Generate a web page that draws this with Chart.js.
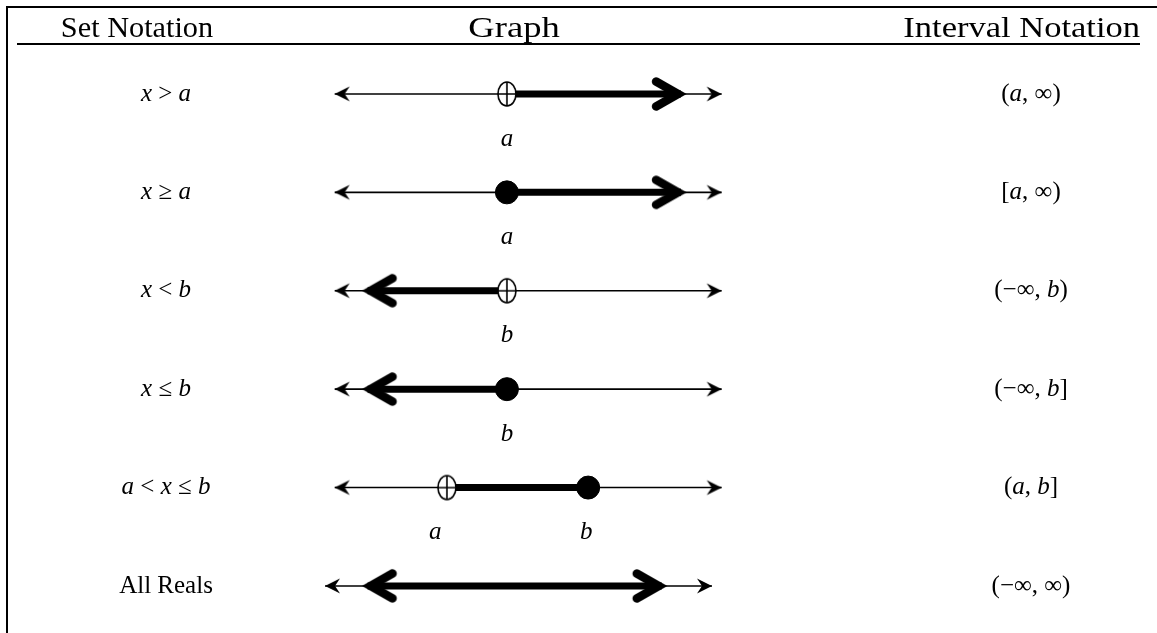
<!DOCTYPE html>
<html><head><meta charset="utf-8">
<script src="https://cdn.jsdelivr.net/npm/chart.js@4/dist/chart.umd.min.js"></script>
<style>html,body{margin:0;padding:0;background:#fff;overflow:hidden}canvas{display:block}</style>
</head><body>
<canvas id="c" width="1157" height="633"></canvas>
<script>
// ---- data ----
const headers = ['Set Notation', 'Graph', 'Interval Notation'];
const setNotation = ['x > a', 'x ≥ a', 'x < b', 'x ≤ b', 'a < x ≤ b', 'All Reals'];
const intervalNotation = ['(a, ∞)', '[a, ∞)', '(−∞, b)', '(−∞, b]', '(a, b]', '(−∞, ∞)'];
const lineStart = [-10, -10, -10, -10, -10, -10.5];
const lineEnd = [10, 10, 10, 10, 10, 9.5];
const shadeStart = [-1.1, -1.1, -8.3, -8.3, -4.2, -8.3];
const shadeEnd = [7.9, 7.9, -1.1, -1.1, 3.1, 6.9];
const startKind = ['open', 'closed', 'arrow', 'arrow', 'open', 'arrow'];
const endKind = ['arrow', 'arrow', 'open', 'closed', 'closed', 'arrow'];
const tickValues = [[-1.1], [-1.1], [-1.1], [-1.1], [-4.8, 3.0], []];
const tickLabels = [['a'], ['a'], ['b'], ['b'], ['a', 'b'], []];

// ---- marker images ----
function makeCanvas(w, h) { const c = document.createElement('canvas'); c.width = w; c.height = h; return c; }
const thinArrow = (() => {
  const c = makeCanvas(34, 34), g = c.getContext('2d');
  const cx = 17, cy = 17;
  g.fillStyle = '#000';
  g.beginPath();
  g.moveTo(cx, cy);
  g.lineTo(cx - 15, cy - 7.5);
  g.lineTo(cx - 10, cy);
  g.lineTo(cx - 15, cy + 7.5);
  g.closePath();
  g.fill();
  return c;
})();
const chevron = (() => {
  const c = makeCanvas(64, 44), g = c.getContext('2d');
  const cx = 32 - 3, cy = 22;
  g.strokeStyle = '#000';
  g.lineWidth = 8.5;
  g.lineCap = 'round';
  g.lineJoin = 'miter';
  g.beginPath();
  g.moveTo(cx - 22, cy - 12.5);
  g.lineTo(cx, cy);
  g.lineTo(cx - 22, cy + 12.5);
  g.stroke();
  return c;
})();
const openMark = (() => {
  const c = makeCanvas(28, 30), g = c.getContext('2d');
  const cx = 14, cy = 15;
  g.fillStyle = '#fff';
  g.strokeStyle = '#000';
  g.lineWidth = 1.6;
  g.beginPath();
  g.ellipse(cx, cy, 9, 12, 0, 0, Math.PI * 2);
  g.fill();
  g.stroke();
  g.beginPath();
  g.moveTo(cx, cy - 12); g.lineTo(cx, cy + 12);
  g.moveTo(cx - 9, cy); g.lineTo(cx + 9, cy);
  g.stroke();
  return c;
})();

// ---- datasets ----
const datasets = [];
for (let i = 0; i < setNotation.length; i++) {
  datasets.push({
    type: 'line', order: 2, clip: false,
    data: [{ x: lineStart[i], y: i }, { x: lineEnd[i], y: i }],
    borderColor: '#000', borderWidth: 1.6,
    pointStyle: thinArrow, pointRadius: 6,
    pointRotation: ctx => ctx.dataIndex === 0 ? 180 : 0
  });
  const kinds = [startKind[i], endKind[i]];
  datasets.push({
    type: 'line', order: 1, clip: false,
    data: [{ x: shadeStart[i], y: i }, { x: shadeEnd[i], y: i }],
    borderColor: '#000', borderWidth: 7, borderCapStyle: 'butt',
    pointStyle: ctx => kinds[ctx.dataIndex] === 'arrow' ? chevron : 'circle',
    pointRadius: ctx => kinds[ctx.dataIndex] === 'arrow' ? 6 : 0,
    pointRotation: ctx => ctx.dataIndex === 0 ? 180 : 0
  });
  const pts = [], styles = [];
  if (startKind[i] !== 'arrow') { pts.push({ x: shadeStart[i], y: i }); styles.push(startKind[i]); }
  if (endKind[i] !== 'arrow') { pts.push({ x: shadeEnd[i], y: i }); styles.push(endKind[i]); }
  datasets.push({
    type: 'line', order: 0, clip: false, showLine: false,
    data: pts,
    pointStyle: ctx => styles[ctx.dataIndex] === 'open' ? openMark : 'circle',
    pointRadius: 11.5,
    pointBackgroundColor: '#000', pointBorderColor: '#000', pointBorderWidth: 1
  });
}

// ---- text helpers ----
const SERIF = '"Liberation Serif", "Times New Roman", serif';
function drawRich(g, str, cx, cy, size, upright) {
  const parts = [...str].map(ch => ({ ch, it: !upright && /[abx]/.test(ch) }));
  let w = 0;
  parts.forEach(p => { g.font = (p.it ? 'italic ' : '') + size + 'px ' + SERIF; p.w = g.measureText(p.ch).width; w += p.w; });
  let x = cx - w / 2;
  g.textBaseline = 'middle';
  g.textAlign = 'left';
  parts.forEach(p => { g.font = (p.it ? 'italic ' : '') + size + 'px ' + SERIF; g.fillText(p.ch, x, cy); x += p.w; });
}
function drawStretched(g, str, x, y, sx, align) {
  g.save();
  g.translate(x, y);
  g.scale(sx, 1);
  g.textAlign = align;
  g.fillText(str, 0, 0);
  g.restore();
}

const tablePlugin = {
  id: 'table',
  beforeDraw(chart) {
    const g = chart.ctx;
    g.save();
    g.fillStyle = '#fff';
    g.fillRect(0, 0, chart.width, chart.height);
    g.strokeStyle = '#000';
    g.lineWidth = 2;
    g.beginPath();
    g.moveTo(7, 633); g.lineTo(7, 7); g.lineTo(1157, 7);
    g.moveTo(17, 44); g.lineTo(1140, 44);
    g.stroke();
    g.restore();
  },
  afterDraw(chart) {
    const g = chart.ctx, xs = chart.scales.x, ys = chart.scales.y;
    g.save();
    g.fillStyle = '#000';
    g.font = '30px ' + SERIF;
    g.textBaseline = 'alphabetic';
    drawStretched(g, headers[0], 137, 37, 1.01, 'center');
    drawStretched(g, headers[1], 514, 37, 1.22, 'center');
    drawStretched(g, headers[2], 1140, 37, 1.15, 'right');
    for (let i = 0; i < setNotation.length; i++) {
      const y = ys.getPixelForValue(i);
      drawRich(g, setNotation[i], 166, y, 25, i === setNotation.length - 1);
      drawRich(g, intervalNotation[i], 1031, y, 25, false);
      tickValues[i].forEach((v, k) => {
        drawRich(g, tickLabels[i][k], xs.getPixelForValue(v), y + 45, 25, false);
      });
    }
    g.restore();
  }
};

new Chart(document.getElementById('c'), {
  type: 'line',
  data: { datasets },
  options: {
    responsive: false, animation: false, devicePixelRatio: 1,
    layout: { padding: 0, autoPadding: false },
    events: [],
    plugins: { legend: { display: false }, tooltip: { enabled: false } },
    scales: {
      x: { type: 'linear', display: false, min: -27.3, max: 32.5 },
      y: { type: 'linear', display: false, min: -0.955, max: 5.478, reverse: true }
    }
  },
  plugins: [tablePlugin]
});
</script>
</body></html>
